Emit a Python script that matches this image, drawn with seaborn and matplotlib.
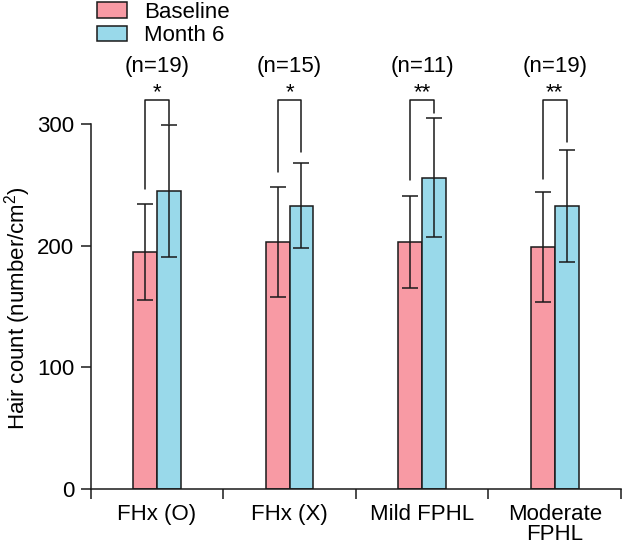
import matplotlib
matplotlib.use("Agg")
import matplotlib.pyplot as plt
import seaborn as sns
import pandas as pd

# data
categories = ["FHx (O)", "FHx (X)", "Mild FPHL", "Moderate\nFPHL"]
baseline_mean = [195, 203, 203, 199]
baseline_sd = [39.5, 45, 38, 45]
month6_mean = [245, 233, 256, 233]
month6_sd = [54, 35, 49, 46]
n_labels = ["(n=19)", "(n=15)", "(n=11)", "(n=19)"]
stars = ["*", "*", "**", "**"]
bracket_left = [247, 261, 254, 255]
bracket_right = [300, 277, 309, 285]
bracket_top = 320

colors = ["#F89AA4", "#99D9EA"]
edge = "#1a1a1a"
fs = 16

df = pd.DataFrame({
    "group": categories * 2,
    "time": ["Baseline"] * 4 + ["Month 6"] * 4,
    "count": baseline_mean + month6_mean,
})

sns.set_theme(style="ticks")
plt.rcParams["font.family"] = ["Liberation Sans", "DejaVu Sans"]
plt.rcParams["mathtext.default"] = "regular"
plt.rcParams["text.color"] = "black"
plt.rcParams["axes.labelcolor"] = "black"
plt.rcParams["xtick.color"] = "black"
plt.rcParams["ytick.color"] = "black"

fig = plt.figure(figsize=(6.22, 5.46), dpi=100)
ax = fig.add_axes([90.7 / 622, 57 / 546, 530.3 / 622, 489 / 546])

sns.barplot(data=df, x="group", y="count", hue="time", palette=colors,
            width=0.36, errorbar=None, edgecolor=edge, linewidth=1.1,
            saturation=1, ax=ax)

# bar centres from the drawn bars
bar_containers = list(ax.containers)
centers = [[p.get_x() + p.get_width() / 2 for p in cont] for cont in bar_containers]

# error bars
sds = [baseline_sd, month6_sd]
means = [baseline_mean, month6_mean]
for k in range(2):
    ax.errorbar(centers[k], means[k], yerr=sds[k], fmt="none", ecolor=edge,
                elinewidth=1.1, capsize=6, capthick=1.1, zorder=5)

# significance brackets, stars and n labels
for i in range(len(categories)):
    xl, xr = centers[0][i], centers[1][i]
    ax.plot([xl, xl, xr, xr], [bracket_left[i], bracket_top, bracket_top, bracket_right[i]],
            color=edge, lw=1.1, clip_on=False)
    ax.text((xl + xr) / 2, bracket_top + 1.5, stars[i], ha="center", va="baseline",
            fontsize=fs, color="black")
    ax.text((xl + xr) / 2, 347, n_labels[i], ha="center", va="center",
            fontsize=fs, color="black")

ax.set_xlim(-0.5, 3.5)
ax.set_ylim(0, 402)
ax.set_yticks([0, 100, 200, 300])
ax.spines["left"].set_bounds(0, 300)
ax.spines["top"].set_visible(False)
ax.spines["right"].set_visible(False)
for s in ["left", "bottom"]:
    ax.spines[s].set_color(edge)
    ax.spines[s].set_linewidth(1.1)

# ticks at category borders, labels centred between them
ax.set_xticks([-0.5, 0.5, 1.5, 2.5, 3.5])
ax.set_xticklabels([])
ax.set_xticks(range(len(categories)), minor=True)
ax.set_xticklabels(categories, minor=True, fontsize=fs, linespacing=0.95)
ax.tick_params(axis="x", which="major", length=7, width=1.1, color=edge)
ax.tick_params(axis="x", which="minor", length=0, pad=11)
ax.tick_params(axis="y", length=7, width=1.1, color=edge, labelsize=fs, pad=5)

ax.set_xlabel("")
ax.set_ylabel("Hair count (number/cm$^{2}$)", fontsize=fs)
ax.yaxis.set_label_coords(-0.108, 0.37)

ax.legend(loc="upper left", bbox_to_anchor=(97 / 622, 0.997), bbox_transform=fig.transFigure,
          frameon=False, fontsize=fs, handlelength=1.35, handleheight=0.7,
          handletextpad=0.75, labelspacing=0.12, borderpad=0, borderaxespad=0)
for h in ax.get_legend().get_patches():
    h.set_edgecolor(edge)
    h.set_linewidth(1.1)

fig.savefig("out.png", dpi=100)
